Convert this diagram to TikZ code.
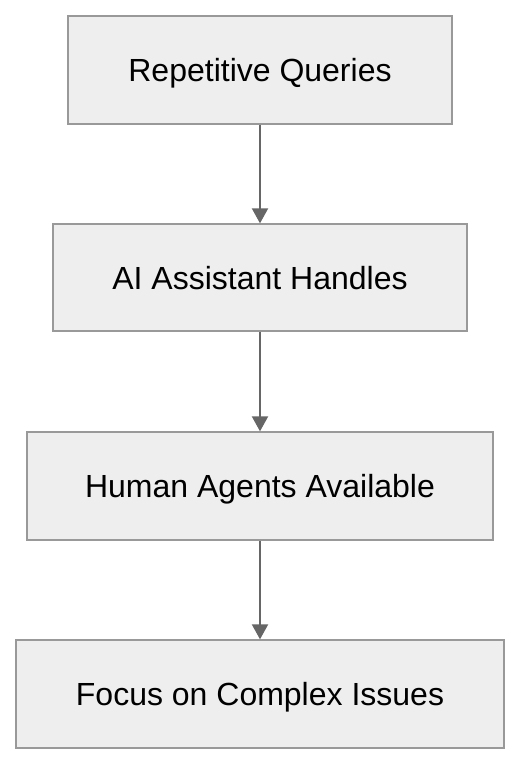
\documentclass[tikz,border=0pt]{standalone}
\usepackage{fontspec}
\setmainfont{Liberation Sans}
\usepackage{xcolor}
\usetikzlibrary{positioning,arrows.meta}

\definecolor{boxfill}{HTML}{EEEEEE}
\definecolor{boxline}{HTML}{999999}
\definecolor{arrowgray}{HTML}{666666}

\tikzset{
    flowbox/.style={draw=boxline, fill=boxfill, line width=1.3pt, inner sep=0pt,
        text height=23pt, text depth=0pt,
        font=\fontsize{32}{38}\selectfont, text=black},
    flowarrow/.style={draw=arrowgray, line width=2pt,
        -{Triangle[width=16pt,length=15pt]}}
}

\begin{document}
\begin{tikzpicture}[x=1pt,y=-1pt]
    \useasboundingbox (0,0) rectangle (520,764);

    % Process steps
    \node[flowbox, minimum width=384pt, minimum height=108pt] (queries) at (260,70) {Repetitive Queries};
    \node[flowbox, minimum width=414pt, minimum height=107pt] (assistant) at (260,277.5) {AI Assistant Handles};
    \node[flowbox, minimum width=466pt, minimum height=108pt] (agents) at (260,486) {Human Agents Available};
    \node[flowbox, minimum width=488pt, minimum height=108pt] (complex) at (260,694) {Focus on Complex Issues};

    % Flow
    \draw[flowarrow] (queries) -- (assistant);
    \draw[flowarrow] (assistant) -- (agents);
    \draw[flowarrow] (agents) -- (complex);
\end{tikzpicture}
\end{document}
